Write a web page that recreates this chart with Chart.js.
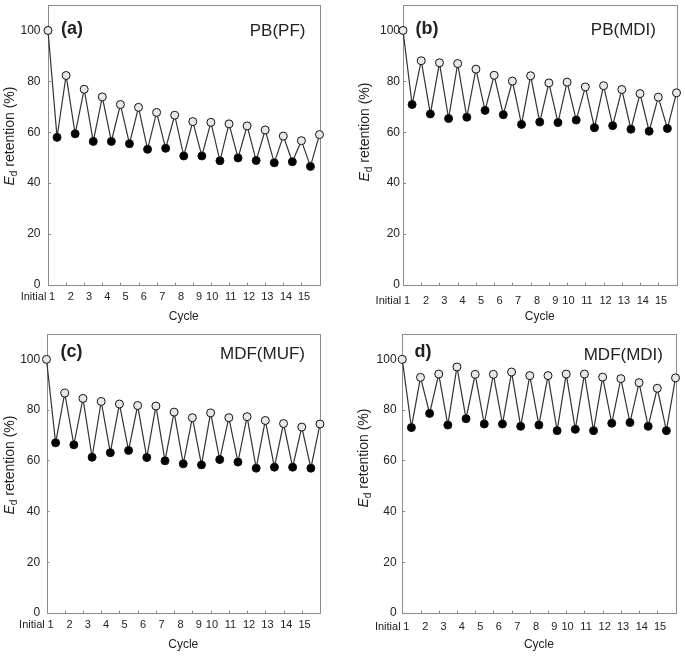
<!DOCTYPE html>
<html>
<head>
<meta charset="utf-8">
<script src="https://cdn.jsdelivr.net/npm/chart.js@4.4.1/dist/chart.umd.min.js"></script>
<style>
  html, body { margin: 0; padding: 0; background: #fff; }
  #wrap { position: relative; width: 685px; height: 658px; overflow: hidden; }
  .panel { position: absolute; }
  .panel canvas { display: block; }
</style>
</head>
<body>
<div id="wrap">
  <div class="panel" style="left:0;top:0"><canvas id="chart-a" width="340" height="330"></canvas></div>
  <div class="panel" style="left:340px;top:0"><canvas id="chart-b" width="345" height="330"></canvas></div>
  <div class="panel" style="left:0;top:330px"><canvas id="chart-c" width="340" height="328"></canvas></div>
  <div class="panel" style="left:340px;top:330px"><canvas id="chart-d" width="345" height="328"></canvas></div>
</div>
<script>
// Tick labels of the cycle axis and where they sit along it
const cycleLabels = ['Initial', '1', '2', '3', '4', '5', '6', '7', '8', '9', '10', '11', '12', '13', '14', '15'];
const labelPos = [-0.8, 0.22, 1.26, 2.27, 3.27, 4.28, 5.3, 6.31, 7.35, 8.35, 9.07, 10.09, 11.11, 12.12, 13.15, 14.15];
const cycleTicks = [1, 2, 3, 4, 5, 6, 7, 8, 9, 10, 11, 12, 13, 14];

// Ed retention (%) - open circles (initial + end of each cycle) and filled circles (mid cycle)
const pbPfOpen = [100, 82.3, 76.9, 73.9, 70.9, 69.8, 67.8, 66.7, 64.2, 63.9, 63.3, 62.5, 60.9, 58.5, 56.7, 59.1];
const pbPfFilled = [58.0, 59.4, 56.4, 56.4, 55.5, 53.3, 53.7, 50.7, 50.7, 48.8, 49.9, 48.9, 48.0, 48.4, 46.6];

const pbMdiOpen = [100, 88.1, 87.3, 87.0, 84.8, 82.4, 80.1, 82.2, 79.4, 79.7, 77.8, 78.3, 76.8, 75.2, 73.8, 75.5];
const pbMdiFilled = [70.9, 67.2, 65.4, 65.9, 68.6, 66.9, 63.1, 64.0, 63.8, 64.8, 61.8, 62.6, 61.2, 60.4, 61.5];

const mdfMufOpen = [100, 86.7, 84.6, 83.4, 82.4, 81.8, 81.6, 79.2, 77.0, 78.9, 77.0, 77.4, 75.9, 74.7, 73.3, 74.5];
const mdfMufFilled = [67.1, 66.3, 61.4, 63.2, 64.1, 61.3, 60.0, 58.8, 58.4, 60.5, 59.5, 57.1, 57.5, 57.5, 57.1];

const mdfMdiOpen = [100, 92.9, 94.2, 97.0, 94.1, 94.1, 95.0, 93.6, 93.6, 94.2, 94.2, 93.0, 92.4, 90.8, 88.6, 92.7];
const mdfMdiFilled = [73.1, 78.7, 74.1, 76.6, 74.5, 74.5, 73.6, 74.1, 71.9, 72.4, 71.9, 74.8, 75.1, 73.6, 71.9];

const frameColor = '#8c8c8c';
const textColor = '#222';
const fontFamily = 'Arial, "Liberation Sans", sans-serif';

// Combine the two series into one zig-zag line: initial, then mid/end pairs per cycle
const buildPoints = (open, filled) => {
  const pts = [{ x: 0, y: open[0] }];
  filled.forEach((v, i) => {
    pts.push({ x: i + 0.5, y: v });
    pts.push({ x: i + 1, y: open[i + 1] });
  });
  return pts;
};

// Stop the axes from reserving extra room for overflowing labels
const zeroPadding = axis => {
  axis.paddingTop = 0;
  axis.paddingBottom = 0;
  axis.paddingLeft = 0;
  axis.paddingRight = 0;
};

// Frame, inward x ticks, panel tags and the y title with subscript
const decorPlugin = {
  id: 'decor',
  beforeDatasetsDraw: (chart, args, opts) => {
    const { ctx, chartArea: a, scales } = chart;
    ctx.save();
    ctx.strokeStyle = frameColor;
    ctx.lineWidth = 1;
    const l = Math.round(a.left) + 0.5, r = Math.round(a.right) + 0.5;
    const t = Math.round(a.top) + 0.5, b = Math.round(a.bottom) + 0.5;
    ctx.strokeRect(l, t, r - l, b - t);
    ctx.beginPath();
    cycleTicks.forEach(k => {
      const px = Math.round(scales.x.getPixelForValue(k)) + 0.5;
      ctx.moveTo(px, b);
      ctx.lineTo(px, b - 3);
    });
    ctx.stroke();
    ctx.restore();
  },
  afterDraw: (chart, args, opts) => {
    const { ctx, chartArea: a } = chart;
    ctx.save();
    ctx.fillStyle = textColor;
    ctx.textBaseline = 'middle';

    ctx.font = `bold 18px ${fontFamily}`;
    ctx.textAlign = 'center';
    ctx.fillText(opts.tag, a.left + opts.tagDx, a.top + opts.tagDy);

    ctx.font = `17px ${fontFamily}`;
    ctx.textAlign = 'right';
    ctx.fillText(opts.name, a.right - opts.nameDx, a.top + opts.nameDy);

    // y-axis title: E (italic) + d (subscript) + " retention (%)"
    const main = `14px ${fontFamily}`, ital = `italic 14px ${fontFamily}`, sub = `10px ${fontFamily}`;
    ctx.font = ital; const wE = ctx.measureText('E').width;
    ctx.font = sub; const wD = ctx.measureText('d').width;
    ctx.font = main; const wR = ctx.measureText(' retention (%)').width;
    const total = wE + wD + wR;
    ctx.translate(a.left - opts.titleDx, (a.top + a.bottom) / 2 + opts.titleDy);
    ctx.rotate(-Math.PI / 2);
    ctx.textAlign = 'left';
    let x = -total / 2;
    ctx.font = ital; ctx.fillText('E', x, 0); x += wE;
    ctx.font = sub; ctx.fillText('d', x, 4); x += wD;
    ctx.font = main; ctx.fillText(' retention (%)', x, 0);
    ctx.restore();
  }
};

// Build one panel
const makePanel = (id, open, filled, p) => {
  const canvas = document.getElementById(id);
  const w = canvas.width, h = canvas.height;
  const yWidth = 28;
  return new Chart(canvas, {
    type: 'line',
    data: {
      datasets: [{
        data: buildPoints(open, filled),
        borderColor: '#333',
        borderWidth: 1.2,
        pointRadius: 4,
        pointHoverRadius: 4,
        pointBorderWidth: 1,
        pointBorderColor: '#111',
        pointBackgroundColor: ctx => ctx.dataIndex % 2 === 0 ? '#e8e8e8' : '#000',
        tension: 0,
        clip: false
      }]
    },
    options: {
      responsive: false,
      animation: false,
      events: [],
      layout: {
        autoPadding: false,
        padding: { left: p.left - yWidth, right: w - p.right, top: p.top, bottom: 0 }
      },
      plugins: {
        legend: { display: false },
        tooltip: { enabled: false },
        decor: p.decor
      },
      scales: {
        x: {
          type: 'linear',
          min: 0,
          max: 15,
          grid: { display: false, drawTicks: false },
          border: { display: false },
          afterBuildTicks: axis => { axis.ticks = labelPos.map(v => ({ value: v })); },
          afterFit: axis => { axis.height = h - p.bottom; zeroPadding(axis); },
          ticks: {
            autoSkip: false,
            maxRotation: 0,
            padding: p.xLabOff - 6.6,
            color: textColor,
            font: { size: 11, family: fontFamily },
            callback: (v, i) => cycleLabels[i]
          },
          title: {
            display: true,
            text: 'Cycle',
            color: textColor,
            font: { size: 12, family: fontFamily },
            padding: { top: 0, bottom: p.titleBottom }
          }
        },
        y: {
          min: 0,
          max: 110,
          grid: { drawOnChartArea: false, tickLength: -3, color: frameColor },
          border: { display: false },
          afterFit: axis => { axis.width = yWidth; zeroPadding(axis); },
          ticks: {
            stepSize: 20,
            padding: p.yGap + 3,
            color: textColor,
            font: { size: 12, family: fontFamily },
            callback: v => (v > 100 ? '' : v)
          }
        }
      }
    },
    plugins: [decorPlugin]
  });
};

makePanel('chart-a', pbPfOpen, pbPfFilled, {
  left: 48, right: 319.5, top: 5, bottom: 285, yGap: 7.5, xLabOff: 12, titleBottom: 6.5,
  decor: { tag: '(a)', name: 'PB(PF)', tagDx: 24, tagDy: 24.5, nameDx: 14, nameDy: 26.5, titleDx: 37.5, titleDy: -9 }
});
makePanel('chart-b', pbMdiOpen, pbMdiFilled, {
  left: 63, right: 336.5, top: 5, bottom: 285, yGap: 3, xLabOff: 16, titleBottom: 6,
  decor: { tag: '(b)', name: 'PB(MDI)', tagDx: 24, tagDy: 24, nameDx: 20.5, nameDy: 25.3, titleDx: 38, titleDy: -13 }
});
makePanel('chart-c', mdfMufOpen, mdfMufFilled, {
  left: 46.5, right: 320, top: 4, bottom: 283, yGap: 6.3, xLabOff: 12, titleBottom: 6,
  decor: { tag: '(c)', name: 'MDF(MUF)', tagDx: 25, tagDy: 18.5, nameDx: 15, nameDy: 20, titleDx: 36.5, titleDy: -8.5 }
});
makePanel('chart-d', mdfMdiOpen, mdfMdiFilled, {
  left: 62.3, right: 335.5, top: 4, bottom: 283, yGap: 5.7, xLabOff: 13.7, titleBottom: 6.5,
  decor: { tag: 'd)', name: 'MDF(MDI)', tagDx: 20.7, tagDy: 17.7, nameDx: 12.5, nameDy: 21.7, titleDx: 38, titleDy: -15.5 }
});
</script>
</body>
</html>
